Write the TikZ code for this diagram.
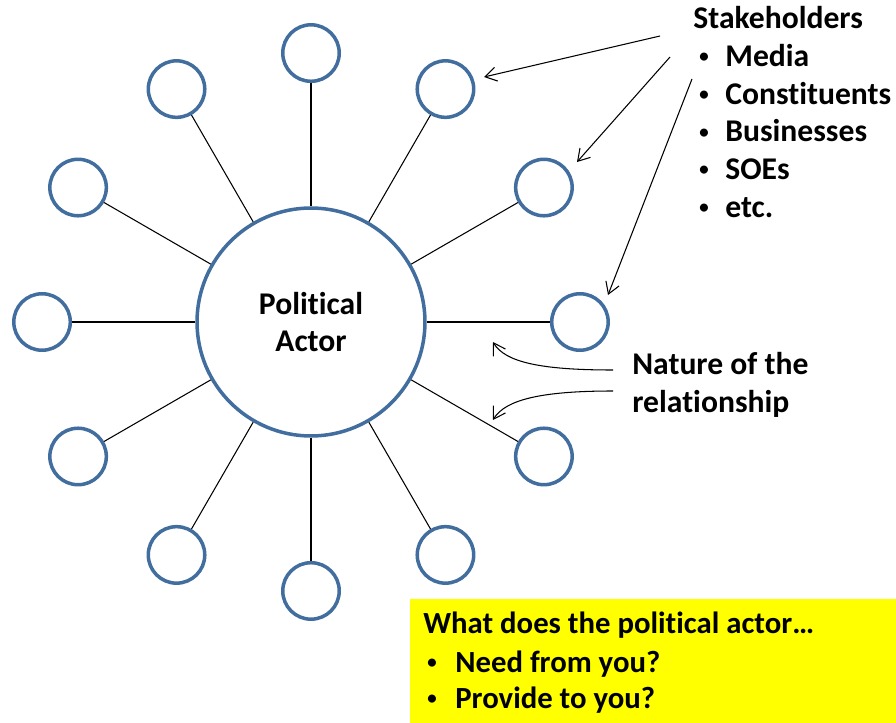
\documentclass[tikz,border=0pt]{standalone}
\usepackage{fontspec}
\setmainfont{Carlito}[Ligatures={NoCommon,NoContextual}]
\usetikzlibrary{arrows.meta}
\definecolor{ringblue}{RGB}{65,110,158}
\definecolor{askyellow}{RGB}{255,255,0}
\newcommand{\smalldot}{{\normalfont\fontsize{13}{13}\selectfont\raisebox{0.12em}{\textbullet}}}
\tikzset{
  actor/.style={circle, draw=ringblue, line width=2pt, minimum size=4.56cm, inner sep=0pt,
    align=center, font=\bfseries\fontsize{18}{21}\selectfont},
  holder/.style={circle, draw=ringblue, line width=2pt, minimum size=1.13cm, inner sep=0pt},
  spoke/.style={line width=0.6pt},
  pointer/.style={line width=0.6pt, -{Straight Barb[length=6.5pt,width=8pt]}},
  bigtext/.style={font=\bfseries\fontsize{18}{21}\selectfont, anchor=base west, inner sep=0pt},
  boxtext/.style={font=\bfseries\fontsize{17.5}{21}\selectfont, anchor=base west, inner sep=0pt}
}
\begin{document}
\begin{tikzpicture}[x=0.02cm, y=-0.02cm]
\useasboundingbox (0,0) rectangle (896,723);

\node [actor] (actor) at (311,322) {Political\\Actor};
\foreach \a in {0,30,...,330}{
  \node [holder] (h\a) at ([shift={(\a:5.38cm)}]actor.center) {};
  \draw [spoke] (actor) -- (h\a);
}

% stakeholder list
\node [bigtext] (stake) at (693,29) {Stakeholders};
\foreach \txt [count=\k] in {Media,Constituents,Businesses,SOEs,etc.}{
  \node [bigtext] (dot\k) at (698,29+37.6*\k) {\smalldot};
  \node [bigtext] (item\k) at (725,29+37.6*\k) {\txt};
}
\coordinate (s1) at (660,36);
\coordinate (s2) at (670,57);
\coordinate (s3) at (692,79);
\coordinate (p1) at (484,77);
\coordinate (p2) at (577,162);
\coordinate (p3) at (608,295);
\draw [pointer] (s1) -- (p1);
\draw [pointer] (s2) -- (p2);
\draw [pointer] (s3) -- (p3);

% relationship
\node [bigtext] (nature) at (632,374) {Nature of the};
\node [bigtext] (relation) at (632,412) {relationship};
\coordinate (n1) at (613,370);
\coordinate (n2) at (613,391);
\coordinate (q1) at (493,342);
\coordinate (q2) at (493,420);
\draw [pointer] (n1) .. controls (540,370) and (505,362) .. (q1);
\draw [pointer] (n2) .. controls (540,391) and (505,400) .. (q2);

% question box
\fill [askyellow] (410,599) rectangle (896,723);
\node [boxtext] (ask) at (423,633) {What does the political actor…};
\node [boxtext] (dotA) at (426,672) {\smalldot};
\node [boxtext] (need) at (455,672) {Need from you?};
\node [boxtext] (dotB) at (426,708) {\smalldot};
\node [boxtext] (give) at (455,708) {Provide to you?};
\end{tikzpicture}
\end{document}
